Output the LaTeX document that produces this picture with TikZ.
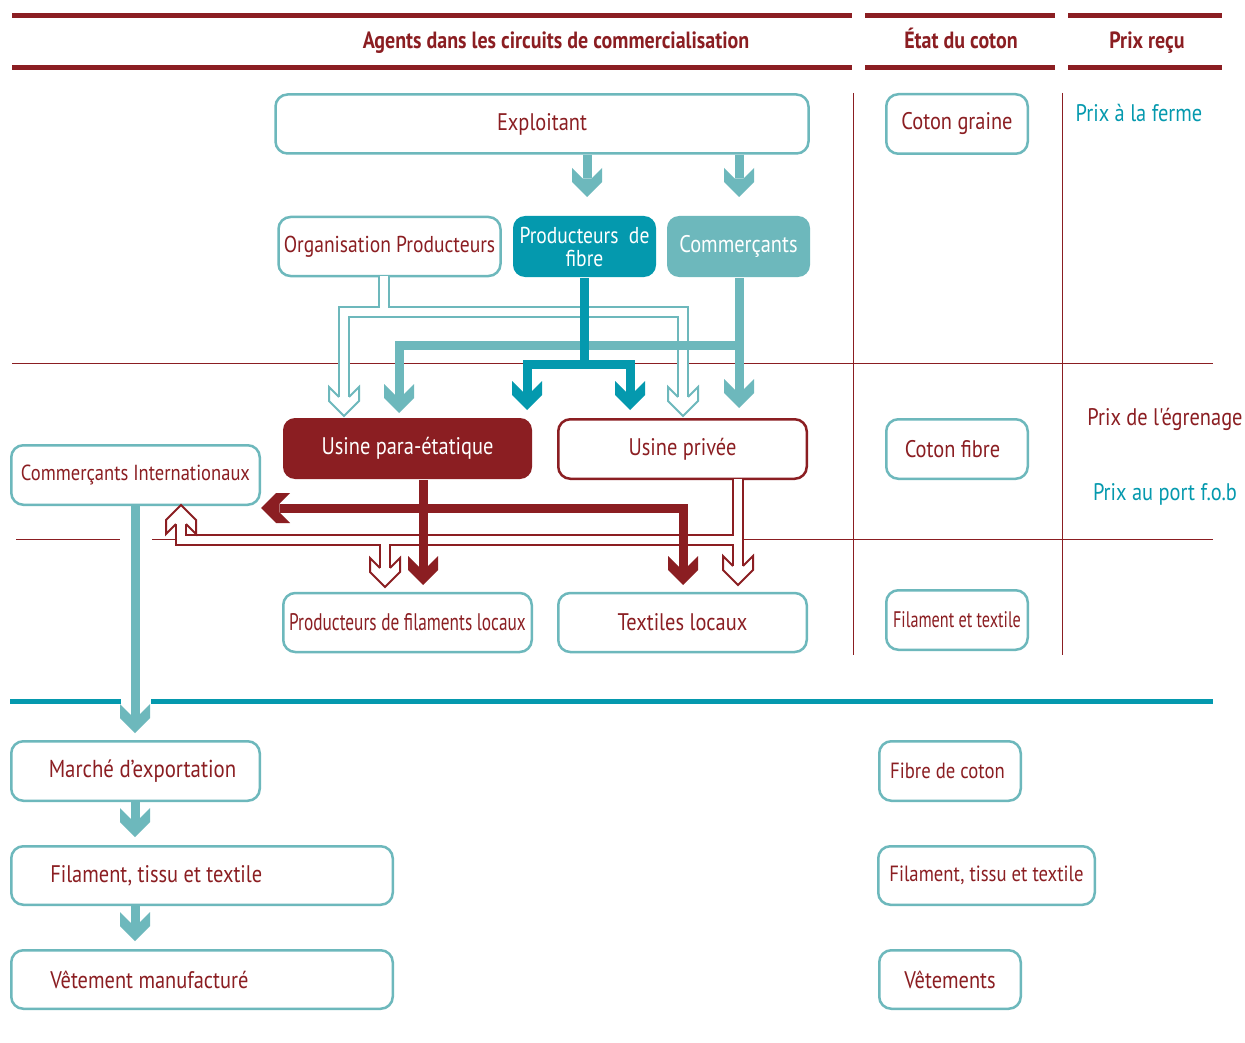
\documentclass[tikz,border=0pt]{standalone}
\usepackage{fontspec}
\setmainfont[FakeStretch=0.85]{PT Sans}
\newfontfamily\condf[FakeStretch=0.72]{PT Sans}
\newfontfamily\aposf[FakeStretch=0.85,Ligatures=TeXOff]{PT Sans}
\usetikzlibrary{calc}
\definecolor{dred}{HTML}{8B1E22}
\definecolor{tealL}{HTML}{6DB8BC}
\definecolor{tealD}{HTML}{0499AE}
\tikzset{
 box/.style={draw=tealL, line width=2.5pt, rounded corners=12pt, fill=white, text=dred, inner sep=0pt, align=center, font=\fontsize{24}{26}\selectfont},
 shaft/.style={line width=9pt, line cap=butt, line join=miter},
 pipeout/.style={line width=12pt, line cap=butt, line join=miter},
 pipein/.style={line width=8pt, draw=white, line cap=butt, line join=miter},
 sep/.style={dred, line width=1pt},
 hdr/.style={text=dred, anchor=base, inner sep=0pt, font=\bfseries\fontsize{23.5}{25}\selectfont},
 headS/.pic={\fill[pic actions] (0,0) -- (15,-15) -- (15,-29) -- (4.5,-18.5) -- (-4.5,-18.5) -- (-15,-29) -- (-15,-15) -- cycle;},
 headH/.pic={\fill[white] (0,0) -- (15,-15) -- (15,-29) -- (5,-19) -- (-5,-19) -- (-15,-29) -- (-15,-15) -- cycle;
   \draw[pic actions, line width=2pt, line join=miter] (-5,-19) -- (-15,-29) -- (-15,-15) -- (0,0) -- (15,-15) -- (15,-29) -- (5,-19);},
}
\begin{document}
\begin{tikzpicture}[x=1pt, y=-1pt]
\useasboundingbox (0,0) rectangle (1245,1043);
\fill[white] (0,0) rectangle (1245,1043);

% header
\draw[dred, line width=5pt] (12,16) -- (852,16) (865,16) -- (1055,16) (1068,16) -- (1222,16);
\draw[dred, line width=5pt] (12,68) -- (852,68) (865,68) -- (1055,68) (1068,68) -- (1222,68);
\node[hdr] (h1) at (556,49) {Agents dans les circuits de commercialisation};
\node[hdr] (h2) at (961,49) {État du coton};
\node[hdr] (h3) at (1147,49) {Prix reçu};

% separators
\draw[sep] (853,93) -- (853,655);
\draw[sep] (1062,93) -- (1062,655);
\draw[sep] (12,363) -- (1213,363);
\draw[sep] (16,539) -- (120,539) (152,539) -- (1213,539);
\draw[tealD, line width=5pt] (10,701) -- (121,701) (151,701) -- (1213,701);

% boxes
\node[box, minimum width=533pt, minimum height=59pt] (expl) at (542,124) {Exploitant};
\node[box, minimum width=222pt, minimum height=59pt, font=\fontsize{23}{25}\selectfont] (org) at (389.5,246.5) {Organisation Producteurs};
\node[box, draw=none, fill=tealD, text=white, minimum width=143pt, minimum height=61pt, font=\fontsize{23}{23}\selectfont] (prodf) at (584.5,246.5) {Producteurs\ \ de\\fibre};
\node[box, draw=none, fill=tealL, text=white, minimum width=143pt, minimum height=61pt] (comm) at (738.5,246.5) {Commerçants};
\node[box, draw=none, fill=dred, text=white, minimum width=249pt, minimum height=61pt] (upara) at (407.5,448.5) {Usine para-étatique};
\node[box, draw=dred, minimum width=248.5pt, minimum height=59.5pt] (upriv) at (682.5,449) {Usine privée};
\node[box, minimum width=248.5pt, minimum height=59.5pt, font=\fontsize{21.8}{23}\selectfont] (ci) at (135.5,475) {Commerçants Internationaux};
\node[box, minimum width=248.5pt, minimum height=59pt, font=\condf\fontsize{24}{26}\selectfont] (pfl) at (407.5,622.5) {Producteurs de filaments locaux};
\node[box, minimum width=248.5pt, minimum height=59pt] (tl) at (682.5,622.5) {Textiles locaux};
\node[box, minimum width=141.5pt, minimum height=59.5pt] (cg) at (957,124) {Coton graine};
\node[box, minimum width=141.5pt, minimum height=59.5pt] (cf) at (957,449) {Coton fibre\hspace*{9pt}};
\node[box, minimum width=141.5pt, minimum height=59.5pt, font=\condf\fontsize{22.5}{24}\selectfont] (ft) at (957,620) {Filament et textile};
\node[box, minimum width=248.5pt, minimum height=59.5pt, font=\fontsize{24.5}{26}\selectfont] (marche) at (135.5,771) {\hspace*{14pt}Marché d’exportation};
\node[box, align=flush left, inner xsep=39pt, text width=303.5pt, minimum height=58.5pt] (fil) at (202,875.5) {Filament, tissu et textile};
\node[box, align=flush left, inner xsep=39pt, text width=303.5pt, minimum height=58.5pt] (vet) at (202,979.5) {Vêtement manufacturé};
\node[box, minimum width=141.5pt, minimum height=59.5pt, font=\fontsize{22}{24}\selectfont] (fdc) at (950,771) {Fibre de coton\hspace*{5pt}};
\node[box, minimum width=216.5pt, minimum height=58.5pt, font=\fontsize{22}{24}\selectfont] (filR) at (986.5,875.5) {Filament, tissu et textile};
\node[box, minimum width=141.5pt, minimum height=58.5pt] (vets) at (950,979.5) {Vêtements};

% price labels
\node[text=tealD, font=\fontsize{24}{26}\selectfont] (pf) at (1139,113) {Prix à la ferme};
\node[text=dred, font=\aposf\fontsize{24}{26}\selectfont] (pe) at (1165,419) {Prix de l'égrenage};
\node[text=tealD, font=\fontsize{24}{26}\selectfont] (pp) at (1165,494) {Prix au port f.o.b};

% ---------- top section ----------
\coordinate (ho1) at (344,416);
\coordinate (ho2) at (683,416);
\coordinate (oj) at ($(org.south)+(-5.5,-1.5)$);
\draw[pipeout,tealL] (oj) -- (oj |- 0,312) -- (ho1 |- 0,312) -- ($(ho1)+(0,-19)$);
\draw[pipeout,tealL] (oj) -- (oj |- 0,312) -- (ho2 |- 0,312) -- ($(ho2)+(0,-19)$);
\draw[pipein] (oj) -- (oj |- 0,312) -- (ho1 |- 0,312) -- ($(ho1)+(0,-19)$);
\draw[pipein] (oj) -- (oj |- 0,312) -- (ho2 |- 0,312) -- ($(ho2)+(0,-19)$);
\pic[draw=tealL] at (ho1) {headH};
\pic[draw=tealL] at (ho2) {headH};

\coordinate (t1) at (587,197);
\coordinate (t2) at (739,197);
\draw[shaft,tealL] (expl.south -| t1) -- ($(t1)+(0,-18.5)$);
\draw[shaft,tealL] (expl.south -| t2) -- ($(t2)+(0,-18.5)$);
\pic[fill=tealL] at (t1) {headS};
\pic[fill=tealL] at (t2) {headS};

\coordinate (c1) at (739,408);
\coordinate (c2) at (399,413);
\draw[shaft,tealL] (comm.south -| c1) -- ($(c1)+(0,-18.5)$);
\draw[shaft,tealL] (743.5,345) -- (c2 |- 0,345) -- ($(c2)+(0,-18.5)$);
\pic[fill=tealL] at (c1) {headS};
\pic[fill=tealL] at (c2) {headS};

\coordinate (d1) at (527,410);
\coordinate (d2) at (630,410);
\draw[shaft,tealD] (prodf.south) -- ($(prodf.south)+(0,87)$);
\draw[shaft,tealD] ($(d1)+(0,-18.5)$) -- ($(d1)+(0,-46)$) -- ($(d2)+(0,-46)$) -- ($(d2)+(0,-18.5)$);
\pic[fill=tealD] at (d1) {headS};
\pic[fill=tealD] at (d2) {headS};

% ---------- middle section ----------
\coordinate (p1) at (738,585);
\coordinate (p2) at (385,587);
\coordinate (p3) at (181,505);
\coordinate (pj) at ($(upriv.south)+(55.5,-1.5)$);
\draw[pipeout,dred] (pj) -- ($(p1)+(0,-19)$);
\draw[pipeout,dred] (pj |- 0,540) -- (p3 |- 0,540) -- ($(p3)+(0,19)$);
\draw[pipeout,dred] (p2 |- 0,540) -- ($(p2)+(0,-19)$);
\draw[pipein] (pj) -- ($(p1)+(0,-19)$);
\draw[pipein] (pj |- 0,540) -- (p3 |- 0,540) -- ($(p3)+(0,19)$);
\draw[pipein] (p2 |- 0,540) -- ($(p2)+(0,-19)$);
\pic[draw=dred] at (p1) {headH};
\pic[draw=dred] at (p2) {headH};
\pic[draw=dred, rotate=180] at (p3) {headH};

\coordinate (r1) at (423,585);
\coordinate (r2) at (683,585);
\coordinate (r3) at (261,508);
\draw[shaft,dred] (upara.south -| r1) -- ($(r1)+(0,-18.5)$);
\draw[shaft,dred] (r1 |- r3) -- ($(r3)+(18.5,0)$);
\draw[shaft,dred] (r1 |- r3) -- (r2 |- r3) -- ($(r2)+(0,-18.5)$);
\pic[fill=dred] at (r1) {headS};
\pic[fill=dred] at (r2) {headS};
\pic[fill=dred, rotate=-90] at (r3) {headS};

% ---------- export chain ----------
\coordinate (b1) at (135,733);
\coordinate (b2) at (135,837);
\coordinate (b3) at (135,941);
\draw[shaft,tealL] (ci.south -| b1) -- ($(b1)+(0,-18.5)$);
\draw[shaft,tealL] (marche.south -| b2) -- ($(b2)+(0,-18.5)$);
\draw[shaft,tealL] (fil.south -| b3) -- ($(b3)+(0,-18.5)$);
\pic[fill=tealL] at (b1) {headS};
\pic[fill=tealL] at (b2) {headS};
\pic[fill=tealL] at (b3) {headS};
\end{tikzpicture}
\end{document}
